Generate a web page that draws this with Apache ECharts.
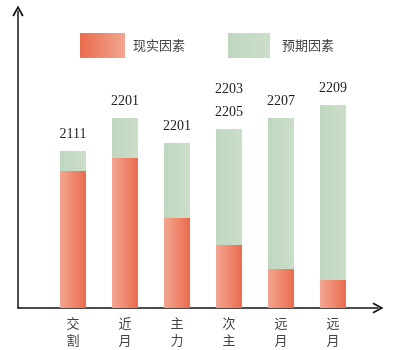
<!DOCTYPE html>
<html>
<head>
<meta charset="utf-8">
<script src="https://cdn.jsdelivr.net/npm/echarts@6/dist/echarts.min.js"></script>
<style>html,body{margin:0;padding:0;background:#fff}#c{width:398px;height:350px}</style>
</head>
<body>
<div id="c"></div>
<script>
var categories = ['交割', '近月', '主力', '次主', '远月', '远月'];
var realValues = [137, 150, 90, 63, 39, 28];
var expectValues = [20, 40, 75, 116, 151, 175];
var topLabels = ['2111', '2201', '2201', '2203\n2205', '2207', '2209'];
var seriesNames = ['现实因素', '预期因素'];

var redGrad = new echarts.graphic.LinearGradient(0, 0, 1, 0, [
  {offset: 0, color: '#f3a690'}, {offset: 1, color: '#ea6b4d'}]);
var redLegend = new echarts.graphic.LinearGradient(0, 0, 1, 0, [
  {offset: 0, color: '#ea6b4d'}, {offset: 1, color: '#f3a690'}]);
var greenGrad = new echarts.graphic.LinearGradient(0, 0, 1, 0, [
  {offset: 0, color: '#c0d7bf'}, {offset: 1, color: '#cbdeca'}]);

var arrowPath = 'path://M5,0 L10,9 L8.6,9.8 L5,3 L1.4,9.8 L0,9 Z';
var frameAxis = {
  type: 'value', min: 0, max: 1,
  axisLine: {show: true, lineStyle: {color: '#111', width: 1.5}, symbol: ['none', arrowPath], symbolSize: [13, 11]},
  axisLabel: {show: false}, axisTick: {show: false}, splitLine: {show: false}
};

var chart = echarts.init(document.getElementById('c'));
chart.setOption({
  animation: false,
  backgroundColor: '#fff',
  legend: [
    {data: [{name: seriesNames[0], itemStyle: {color: redLegend}}], icon: 'rect', left: 75, top: 28, itemWidth: 45, itemHeight: 25,
     textStyle: {color: '#444', fontSize: 13, fontFamily: 'Noto Sans CJK SC', padding: [0, 0, 0, 3]}},
    {data: [seriesNames[1]], icon: 'rect', left: 223, top: 28, itemWidth: 42, itemHeight: 25,
     textStyle: {color: '#444', fontSize: 13, fontFamily: 'Noto Sans CJK SC', padding: [0, 0, 0, 7]}}
  ],
  grid: [
    {left: 18, right: 20, top: 11, bottom: 42},
    {left: 47, right: 39, top: 8, bottom: 42}
  ],
  xAxis: [
    Object.assign({gridIndex: 0}, frameAxis),
    {gridIndex: 1, type: 'category', data: categories,
     axisLine: {show: false}, axisTick: {show: false},
     axisLabel: {margin: 7, color: '#444', fontSize: 13, lineHeight: 17, fontFamily: 'Noto Sans CJK SC',
       formatter: function (v) { return v.split('').join('\n'); }}}
  ],
  yAxis: [
    Object.assign({gridIndex: 0}, frameAxis),
    {gridIndex: 1, type: 'value', min: 0, max: 300, show: false}
  ],
  series: [
    {name: seriesNames[0], type: 'bar', xAxisIndex: 1, yAxisIndex: 1, stack: 's', barWidth: 26,
     itemStyle: {color: redGrad}, data: realValues},
    {name: seriesNames[1], type: 'bar', xAxisIndex: 1, yAxisIndex: 1, stack: 's', barWidth: 26,
     itemStyle: {color: greenGrad}, data: expectValues,
     label: {show: true, position: 'top', distance: 5, color: '#222', fontSize: 14, lineHeight: 23,
       fontFamily: 'Liberation Serif',
       formatter: function (p) { return topLabels[p.dataIndex]; }}}
  ]
});
</script>
</body>
</html>
